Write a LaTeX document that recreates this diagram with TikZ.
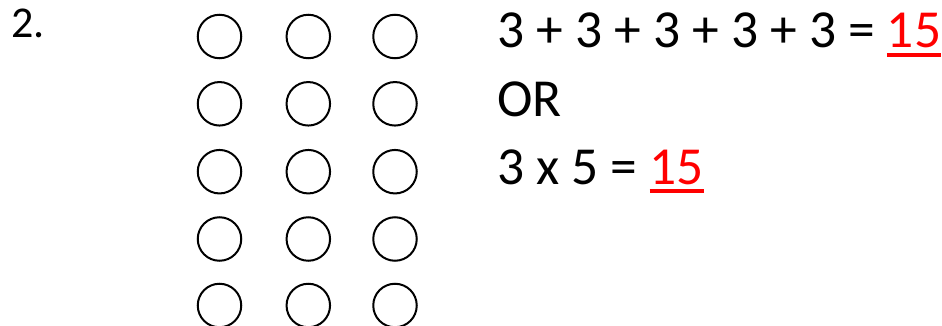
\documentclass[tikz,border=0pt]{standalone}
\usepackage{fontspec}
\setmainfont{Carlito}
\newcommand\redul[1]{\setbox0\hbox{#1}\rlap{\color{red}\rule[-8.8pt]{\wd0}{3.4pt}}\box0}
\begin{document}
\begin{tikzpicture}[x=1pt,y=-1pt,
  dot/.style={circle,draw,line width=2pt,minimum size=43.5pt,inner sep=0pt},
  txt/.style={anchor=base west,inner sep=0pt,font=\fontsize{53.5}{60}\selectfont},
  lbl/.style={anchor=base west,inner sep=0pt,font=\fontsize{44}{50}\selectfont}]
\useasboundingbox (0,0) rectangle (942,326);
\node[lbl] (num) at (11,38) {2.};
\foreach \c/\x in {1/219.5,2/308.3,3/395}{
  \foreach \r/\y in {1/36.5,2/103.8,3/171.7,4/239,5/305.5}{
    \node[dot] (c\r\c) at (\x,\y) {};
  }
}
\node[txt] (sum) at (497,48) {3 + 3 + 3 + 3 + 3 = \redul{\textcolor{red}{15}}};
\node[txt] (or) at (497,117) {OR};
\node[txt] (prod) at (497,184) {3 x 5 = \redul{\textcolor{red}{15}}};
\end{tikzpicture}
\end{document}
